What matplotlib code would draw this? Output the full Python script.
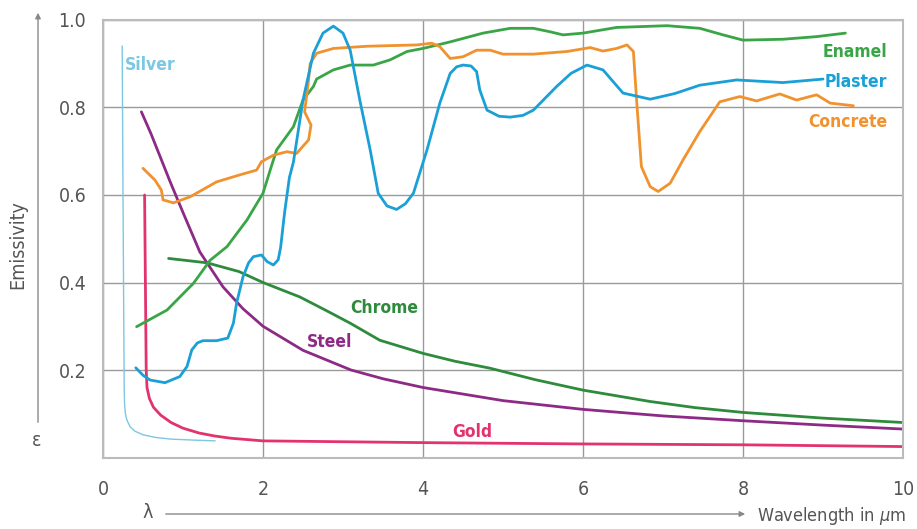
import matplotlib
matplotlib.use("Agg")
from matplotlib import pyplot as plt

plt.rcParams['font.family'] = ['DejaVu Sans']
plt.rcParams['font.stretch'] = 'condensed'

# values (wavelength in um, emissivity)
silver_x = [0.24, 0.25, 0.26, 0.265, 0.27, 0.28, 0.3, 0.34, 0.4, 0.5, 0.65, 0.85, 1.1, 1.4]
silver_y = [0.94, 0.6, 0.3, 0.16, 0.12, 0.1, 0.085, 0.07, 0.06, 0.052, 0.046, 0.042, 0.04, 0.038]

gold_x = [0.52, 0.53, 0.54, 0.55, 0.58, 0.63, 0.72, 0.85, 1.0, 1.2, 1.4, 1.6, 2.0, 3, 4, 6, 8, 10]
gold_y = [0.6, 0.4, 0.2, 0.16, 0.135, 0.115, 0.097, 0.08, 0.067, 0.056, 0.049, 0.044, 0.038, 0.036, 0.034, 0.031, 0.029, 0.025]

steel_x = [0.48, 0.6, 0.72, 0.84, 1.0, 1.21, 1.5, 1.75, 2.0, 2.5, 3.1, 3.5, 4, 5, 6, 7, 8, 9, 10]
steel_y = [0.79, 0.74, 0.685, 0.63, 0.56, 0.47, 0.39, 0.34, 0.30, 0.245, 0.2, 0.18, 0.16, 0.13, 0.11, 0.095, 0.084, 0.074, 0.065]

chrome_x = [0.82, 1.3, 1.7, 2.0, 2.46, 2.8, 3.09, 3.46, 4, 4.4, 4.84, 5.4, 6, 6.84, 7.4, 8, 9, 10]
chrome_y = [0.455, 0.445, 0.425, 0.40, 0.367, 0.335, 0.307, 0.268, 0.238, 0.22, 0.204, 0.178, 0.154, 0.128, 0.114, 0.103, 0.09, 0.08]

enamel_x = [0.42, 0.8, 1.13, 1.34, 1.55, 1.8, 2.0, 2.09, 2.17, 2.38, 2.5, 2.63, 2.67, 2.88, 3.09,
            3.38, 3.59, 3.8, 4.0, 4.34, 4.75, 5.09, 5.38, 5.59, 5.75, 6.0, 6.42, 7.05, 7.46,
            7.75, 8.0, 8.5, 8.92, 9.28]
enamel_y = [0.299, 0.337, 0.398, 0.451, 0.482, 0.543, 0.604, 0.657, 0.703, 0.756, 0.817, 0.848, 0.865, 0.886, 0.897,
            0.897, 0.909, 0.928, 0.935, 0.95, 0.97, 0.981, 0.981, 0.973, 0.966, 0.97, 0.983, 0.987, 0.981,
            0.966, 0.954, 0.956, 0.962, 0.97]

plaster_x = [0.41, 0.5, 0.59, 0.775, 0.96, 1.05, 1.11, 1.18, 1.25, 1.42, 1.56, 1.63, 1.67, 1.75, 1.82, 1.88, 1.98,
             2.05, 2.13, 2.19, 2.22, 2.27, 2.33, 2.38, 2.5, 2.63, 2.75, 2.88, 3.0, 3.09, 3.21, 3.34,
             3.44, 3.55, 3.67, 3.78, 3.88, 4.05, 4.21, 4.34, 4.42, 4.5, 4.6, 4.67, 4.71, 4.8, 4.95, 5.09,
             5.25, 5.38, 5.67, 5.85, 6.05, 6.25, 6.5, 6.84, 7.15, 7.46, 7.92, 8.5, 9.0]
plaster_y = [0.205, 0.188, 0.177, 0.171, 0.185, 0.208, 0.246, 0.262, 0.267, 0.267, 0.273, 0.307, 0.353, 0.413, 0.445, 0.459, 0.463,
             0.448, 0.44, 0.452, 0.48, 0.56, 0.64, 0.675, 0.817, 0.924, 0.97, 0.986, 0.97, 0.931, 0.817, 0.703,
             0.604, 0.575, 0.567, 0.58, 0.604, 0.703, 0.81, 0.878, 0.893, 0.897, 0.895, 0.882, 0.84, 0.794, 0.78, 0.778,
             0.782, 0.794, 0.848, 0.878, 0.897, 0.886, 0.833, 0.819, 0.832, 0.851, 0.863, 0.857, 0.865]

concrete_x = [0.5, 0.65, 0.73, 0.75, 0.88, 1.09, 1.42, 1.71, 1.92, 1.98, 2.13, 2.3, 2.42, 2.57, 2.6,
              2.52, 2.57, 2.59, 2.67, 2.88, 3.3, 3.92, 4.11, 4.21, 4.34, 4.5, 4.67, 4.84, 5.0, 5.38,
              5.8, 6.09, 6.25, 6.42, 6.55, 6.63, 6.67, 6.73, 6.84, 6.94, 7.09, 7.25, 7.46, 7.71,
              7.96, 8.17, 8.46, 8.67, 8.92, 9.09, 9.38]
concrete_y = [0.661, 0.634, 0.611, 0.589, 0.582, 0.596, 0.63, 0.646, 0.657, 0.676, 0.691, 0.699, 0.695, 0.726, 0.76,
              0.79, 0.863, 0.901, 0.924, 0.935, 0.94, 0.943, 0.947, 0.939, 0.912, 0.916, 0.931, 0.931, 0.922, 0.922,
              0.928, 0.937, 0.929, 0.935, 0.943, 0.928, 0.817, 0.665, 0.619, 0.608, 0.627, 0.68, 0.745, 0.813,
              0.825, 0.815, 0.831, 0.817, 0.829, 0.81, 0.804]

c_silver = "#7cc7e2"
c_gold = "#e2336e"
c_steel = "#8c2a85"
c_chrome = "#2e8b3c"
c_enamel = "#3aa546"
c_plaster = "#1aa0d6"
c_concrete = "#f0922e"

fig = plt.figure(figsize=(9.17, 5.29), dpi=100)
ax = fig.add_axes([103 / 917, 71.5 / 529, 800 / 917, 437.5 / 529])

kw = dict(lw=2.0, solid_joinstyle="round", solid_capstyle="round")
ax.plot(silver_x, silver_y, color=c_silver, lw=1.0)
ax.plot(gold_x, gold_y, color=c_gold, **kw)
ax.plot(steel_x, steel_y, color=c_steel, **kw)
ax.plot(chrome_x, chrome_y, color=c_chrome, **kw)
ax.plot(enamel_x, enamel_y, color=c_enamel, **kw)
ax.plot(concrete_x, concrete_y, color=c_concrete, **kw)
ax.plot(plaster_x, plaster_y, color=c_plaster, **kw)

lab = dict(fontsize=12.5, fontweight="bold", va="center")
ax.text(0.27, 0.897, "Silver", color=c_silver, ha="left", **lab)
ax.text(9.8, 0.927, "Enamel", color=c_enamel, ha="right", **lab)
ax.text(9.8, 0.858, "Plaster", color=c_plaster, ha="right", **lab)
ax.text(9.8, 0.767, "Concrete", color=c_concrete, ha="right", **lab)
ax.text(3.52, 0.342, "Chrome", color=c_chrome, ha="center", **lab)
ax.text(2.83, 0.264, "Steel", color=c_steel, ha="center", **lab)
ax.text(4.62, 0.058, "Gold", color=c_gold, ha="center", **lab)

ax.set_xlim(0, 10)
ax.set_ylim(0, 1)
ax.set_xticks([0, 2, 4, 6, 8, 10])
ax.set_yticks([0.2, 0.4, 0.6, 0.8, 1.0])
ax.set_yticklabels(["0.2", "0.4", "0.6", "0.8", "1.0"])
ax.tick_params(length=0, labelsize=14, labelcolor="#555555")
ax.tick_params(axis="x", pad=16)
ax.tick_params(axis="y", pad=12)
ax.grid(color="#9a9a9a", lw=1.0)
ax.set_axisbelow(True)
for s in ax.spines.values():
    s.set_color("#bbbbbb")
    s.set_linewidth(1.5)

# axis arrows and labels outside the plot
arrow = dict(arrowstyle="-|>", color="#888888", lw=1.0, mutation_scale=8)
ax.annotate("", xy=(38, 519), xytext=(38, 104), xycoords="figure pixels",
            textcoords="figure pixels", arrowprops=arrow)
ax.annotate("", xy=(748, 15), xytext=(163, 15), xycoords="figure pixels",
            textcoords="figure pixels", arrowprops=arrow)
fig.text(37 / 917, 1 - 440 / 529, "ε", fontsize=14, color="#555555", ha="center", va="center")
fig.text(18 / 917, 1 - 245 / 529, "Emissivity", fontsize=14, color="#555555", rotation=90,
         ha="center", va="center")
fig.text(148 / 917, 1 - 513 / 529, "λ", fontsize=14, color="#555555", ha="center", va="center")
fig.text(757 / 917, 1 - 516 / 529, r"Wavelength in $\mu$m", fontsize=13, color="#555555",
         ha="left", va="center")

fig.savefig("out.png", dpi=100)
